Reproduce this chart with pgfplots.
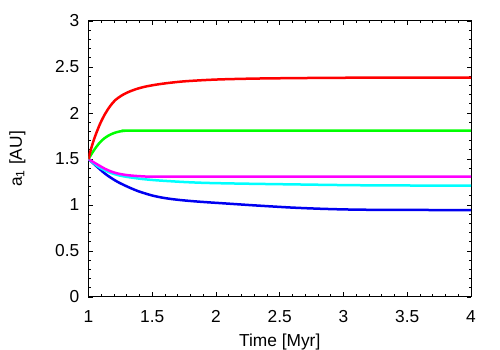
\documentclass[border=0pt]{standalone}
\usepackage{fontspec}
\setmainfont{Liberation Sans}
\usepackage{pgfplots}
\pgfplotsset{compat=1.18}
\usetikzlibrary{calc}
\definecolor{cRed}{RGB}{255,0,0}
\definecolor{cGreen}{RGB}{0,255,0}
\definecolor{cMag}{RGB}{255,0,255}
\definecolor{cCyan}{RGB}{0,255,255}
\definecolor{cBlue}{RGB}{0,0,240}

\begin{document}
\begin{tikzpicture}
\begin{axis}[
  scale only axis, width=229.5pt, height=165.6pt,
  xmin=1, xmax=4, ymin=0, ymax=3,
  xtick={1,1.5,...,4}, ytick={0,0.5,...,3},
  minor x tick num=4, minor y tick num=4,
  tick align=inside, major tick length=2.7pt, minor tick length=1.5pt,
  axis line style={line width=0.6pt}, every tick/.style={black, line width=0.5pt},
  font=\fontsize{10.4pt}{12pt}\selectfont,
  /pgf/number format/assume math mode=true,
  /pgf/number format/.cd, fixed, precision=1, /pgfplots/.cd,
  xticklabel style={yshift=-4.5pt}, yticklabel style={xshift=-2pt},
  xlabel={Time [Myr]}, ylabel={a\textsubscript{1} [AU]},
  xlabel style={yshift=0pt}, ylabel style={yshift=11pt},
  every axis plot/.append style={line width=1.5pt, no markers, smooth}]
\addplot[cBlue] coordinates {(1,1.5) (1.04,1.45) (1.08,1.40) (1.13,1.34) (1.18,1.292) (1.23,1.25) (1.29,1.209) (1.34,1.178) (1.39,1.150) (1.45,1.123) (1.5,1.103) (1.57,1.082) (1.65,1.065) (1.74,1.051) (1.84,1.039) (1.95,1.028) (2.05,1.019) (2.3,0.996) (2.58,0.973) (2.8,0.960) (3.0,0.952) (3.2,0.948) (3.5,0.946) (4,0.945)};
\addplot[cCyan] coordinates {(1,1.5) (1.04,1.455) (1.08,1.413) (1.13,1.375) (1.18,1.346) (1.23,1.325) (1.29,1.308) (1.4,1.286) (1.5,1.272) (1.6,1.262) (1.76,1.249) (1.9,1.241) (2.05,1.236) (2.3,1.230) (2.6,1.224) (2.97,1.217) (3.3,1.213) (4,1.210)};
\addplot[cMag] coordinates {(1,1.5) (1.04,1.465) (1.08,1.432) (1.13,1.393) (1.18,1.363) (1.23,1.342) (1.29,1.327) (1.36,1.317) (1.43,1.311) (1.5,1.309) (2,1.308) (4,1.308)};
\addplot[cGreen] coordinates {(1,1.5) (1.04,1.59) (1.08,1.665) (1.12,1.72) (1.16,1.757) (1.2,1.782) (1.24,1.798) (1.28,1.806) (1.31,1.808) (2,1.808) (4,1.808)};
\addplot[cRed] coordinates {(1,1.5) (1.02,1.61) (1.05,1.74) (1.09,1.88) (1.13,1.99) (1.17,2.075) (1.21,2.14) (1.26,2.19) (1.31,2.226) (1.37,2.258) (1.44,2.285) (1.53,2.308) (1.63,2.327) (1.75,2.344) (1.9,2.357) (2.05,2.366) (2.3,2.374) (2.6,2.379) (3,2.383) (3.5,2.385) (4,2.385)};
\end{axis}
\pgfresetboundingbox
\path ($(current axis.south west)+(-53.1pt,-31.8pt)$) rectangle ($(current axis.north east)+(17.4pt,12.6pt)$);
\end{tikzpicture}
\end{document}
